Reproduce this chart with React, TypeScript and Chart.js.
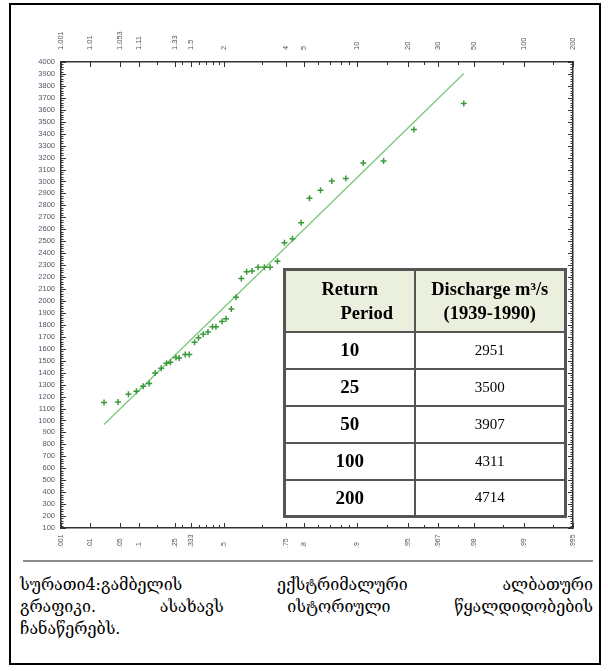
import React, { useEffect, useRef } from "react";
import { Chart, registerables } from "chart.js";

Chart.register(...registerables);

// Observed annual floods: Gumbel reduced variate (plotting position) and discharge (m³/s)
const reducedVariate = [
  -1.325, -1.127, -0.981, -0.868, -0.773, -0.688, -0.603, -0.518, -0.443, -0.387,
  -0.31, -0.264, -0.179, -0.122, -0.047, 0.009, 0.076, 0.142, 0.207, 0.255,
  0.34, 0.397, 0.472, 0.538, 0.613, 0.688, 0.765, 0.85, 0.939, 1.019,
  1.123, 1.222, 1.335, 1.458, 1.575, 1.731, 1.891, 2.089, 2.335, 2.622,
  3.051, 3.754,
];
const discharge = [
  1150, 1155, 1219, 1244, 1286, 1309, 1397, 1437, 1478, 1487,
  1526, 1523, 1551, 1551, 1654, 1693, 1721, 1740, 1785, 1785,
  1829, 1852, 1932, 2032, 2189, 2244, 2250, 2283, 2283, 2283,
  2333, 2487, 2520, 2654, 2859, 2926, 3005, 3024, 3155, 3172,
  3436, 3653,
];

// Fitted Gumbel line (end points)
const fitX = [-1.325, 3.754];
const fitY = [966, 3904];

// Axis ticks
const probValues = [0.001, 0.01, 0.05, 0.1, 0.25, 0.3333, 0.5, 0.75, 0.8, 0.9, 0.95, 0.9667, 0.98, 0.99, 0.995];
const probLabels = [".001", ".01", ".05", ".1", ".25", ".333", ".5", ".75", ".8", ".9", ".95", ".967", ".98", ".99", ".995"];
const returnLabels = ["1.001", "1.01", "1.053", "1.11", "1.33", "1.5", "2", "4", "5", "10", "20", "30", "50", "100", "200"];
const minorReturnPeriods = [1.2, 1.4, 1.6, 1.7, 1.8, 1.9, 3, 6, 7, 8, 9, 15, 25, 40, 75, 150];

// Table
const tableReturn = ["10", "25", "50", "100", "200"];
const tableDischarge = ["2951", "3500", "3907", "4311", "4714"];

const captionLines = [
  "სურათი4:გამბელის ექსტრიმალური ალბათური",
  "გრაფიკი. ასახავს ისტორიული წყალდიდობების",
  "ჩანაწერებს.",
];

const gumbel = (p: number) => -Math.log(-Math.log(p));
const X_MIN = gumbel(0.001);
const X_MAX = gumbel(0.995);

const axisDecor = {
  id: "axisDecor",
  afterDraw(chart: any) {
    const { ctx, chartArea: a, scales } = chart;
    const x = scales.x;
    const y = scales.y;
    ctx.save();
    ctx.strokeStyle = "#333";
    ctx.lineWidth = 1;
    const vtick = (v: number, len: number) => {
      const px = Math.round(x.getPixelForValue(v)) + 0.5;
      ctx.beginPath();
      ctx.moveTo(px, a.bottom);
      ctx.lineTo(px, a.bottom - len);
      ctx.moveTo(px, a.top);
      ctx.lineTo(px, a.top + len);
      ctx.stroke();
    };
    probValues.forEach((p) => vtick(gumbel(p), 5));
    minorReturnPeriods.forEach((T) => vtick(gumbel(1 - 1 / T), 3));
    for (let v = 100; v <= 4000; v += 20) {
      const py = Math.round(y.getPixelForValue(v)) + 0.5;
      const len = v % 100 === 0 ? 5 : 2.5;
      ctx.beginPath();
      ctx.moveTo(a.left, py);
      ctx.lineTo(a.left + len, py);
      ctx.moveTo(a.right, py);
      ctx.lineTo(a.right - len, py);
      ctx.stroke();
    }
    ctx.fillStyle = "#555";
    ctx.textBaseline = "middle";
    ctx.textAlign = "left";
    probValues.forEach((p, i) => {
      const px = x.getPixelForValue(gumbel(p));
      ctx.font = "7.5px 'Liberation Sans', Arial, sans-serif";
      ctx.save();
      ctx.translate(px, a.top - 12);
      ctx.rotate(-Math.PI / 2);
      ctx.fillText(returnLabels[i], 0, 0);
      ctx.restore();
      ctx.font = "7px 'Liberation Sans', Arial, sans-serif";
      ctx.save();
      ctx.translate(px, a.bottom + 20);
      ctx.rotate(-Math.PI / 2);
      ctx.fillText(probLabels[i], 0, 0);
      ctx.restore();
    });
    ctx.restore();
  },
};

export default function App() {
  const canvasRef = useRef<HTMLCanvasElement | null>(null);

  useEffect(() => {
    if (!canvasRef.current) return;
    const border = { display: true, color: "#333", width: 1.5 };
    const chart = new Chart(canvasRef.current, {
      type: "scatter",
      data: {
        datasets: [
          {
            label: "Observed",
            data: reducedVariate.map((v, i) => ({ x: v, y: discharge[i] })),
            pointStyle: "cross",
            pointRadius: 3,
            borderWidth: 1.5,
            borderColor: "#3a9a3a",
            backgroundColor: "#3a9a3a",
            showLine: false,
          },
          {
            label: "Gumbel fit",
            data: fitX.map((v, i) => ({ x: v, y: fitY[i] })),
            showLine: true,
            pointRadius: 0,
            borderWidth: 1.3,
            borderColor: "#7cc67c",
            backgroundColor: "#7cc67c",
          },
        ],
      },
      options: {
        animation: false,
        responsive: true,
        maintainAspectRatio: false,
        layout: { padding: 0 },
        plugins: { legend: { display: false }, tooltip: { enabled: false } },
        scales: {
          x: {
            type: "linear",
            position: "bottom",
            min: X_MIN,
            max: X_MAX,
            grid: { display: false, drawTicks: false },
            border,
            ticks: { display: false },
            afterFit: (s: any) => { s.height = 32; },
          },
          x2: {
            type: "linear",
            position: "top",
            min: X_MIN,
            max: X_MAX,
            grid: { display: false, drawTicks: false },
            border,
            ticks: { display: false },
            afterFit: (s: any) => { s.height = 62; },
          },
          y: {
            type: "linear",
            position: "left",
            min: 100,
            max: 4000,
            grid: { display: false, drawTicks: false },
            border,
            ticks: {
              stepSize: 100,
              autoSkip: false,
              padding: 6,
              color: "#4d5566",
              font: { size: 7.5, family: "'Liberation Sans', Arial, sans-serif" },
              callback: (v: any) => String(v),
            },
            afterFit: (s: any) => { s.width = 61; },
          },
          y2: {
            type: "linear",
            position: "right",
            min: 100,
            max: 4000,
            grid: { display: false, drawTicks: false },
            border,
            ticks: { display: false },
            afterFit: (s: any) => { s.width = 35; },
          },
        },
      },
      plugins: [axisDecor],
    } as any);
    return () => chart.destroy();
  }, []);

  const cell: React.CSSProperties = {
    border: "2px solid #555",
    textAlign: "center",
    verticalAlign: "middle",
    padding: 0,
    background: "#fff",
  };

  return (
    <div style={{ position: "absolute", left: 0, top: 0, width: 608, height: 671 }}>
      <div
        style={{
          position: "absolute",
          left: 9,
          top: 3,
          width: 592,
          height: 662,
          boxSizing: "border-box",
          border: "2px solid #000",
        }}
      />
      <div style={{ position: "absolute", left: 0, top: 0, width: 608, height: 560 }}>
        <canvas ref={canvasRef} />
      </div>
      <table
        style={{
          position: "absolute",
          left: 283,
          top: 268,
          width: 281,
          height: 247,
          borderCollapse: "collapse",
          tableLayout: "fixed",
          border: "3px solid #555",
          fontFamily: "'Liberation Serif', 'Times New Roman', serif",
          color: "#000",
        }}
      >
        <colgroup>
          <col style={{ width: 130 }} />
          <col style={{ width: 151 }} />
        </colgroup>
        <thead>
          <tr style={{ height: 62 }}>
            <th style={{ ...cell, background: "#EAF0DD", fontSize: 18.5, lineHeight: "24px" }}>
              Return
              <br />
              <span style={{ paddingLeft: 34 }}>Period</span>
            </th>
            <th style={{ ...cell, background: "#EAF0DD", fontSize: 18.5, lineHeight: "24px" }}>
              Discharge m³/s
              <br />
              (1939-1990)
            </th>
          </tr>
        </thead>
        <tbody>
          {tableReturn.map((r, i) => (
            <tr key={r} style={{ height: 37 }}>
              <td style={{ ...cell, fontWeight: "bold", fontSize: 19 }}>{r}</td>
              <td style={{ ...cell, fontSize: 15 }}>{tableDischarge[i]}</td>
            </tr>
          ))}
        </tbody>
      </table>
      <div style={{ position: "absolute", left: 23, top: 560, width: 570, height: 2, background: "#8c8c8c" }} />
      {captionLines.map((line, i) => (
        <div
          key={i}
          style={{
            position: "absolute",
            left: 20,
            top: 574 + i * 22,
            width: 573,
            fontFamily: "'DejaVu Serif', 'DejaVu Sans', serif",
            fontSize: 16,
            lineHeight: "22px",
            textAlign: i < 2 ? "justify" : "left",
            textAlignLast: i < 2 ? "justify" : "left",
            color: "#000",
            whiteSpace: "nowrap",
          } as React.CSSProperties}
        >
          {line}
        </div>
      ))}
    </div>
  );
}
